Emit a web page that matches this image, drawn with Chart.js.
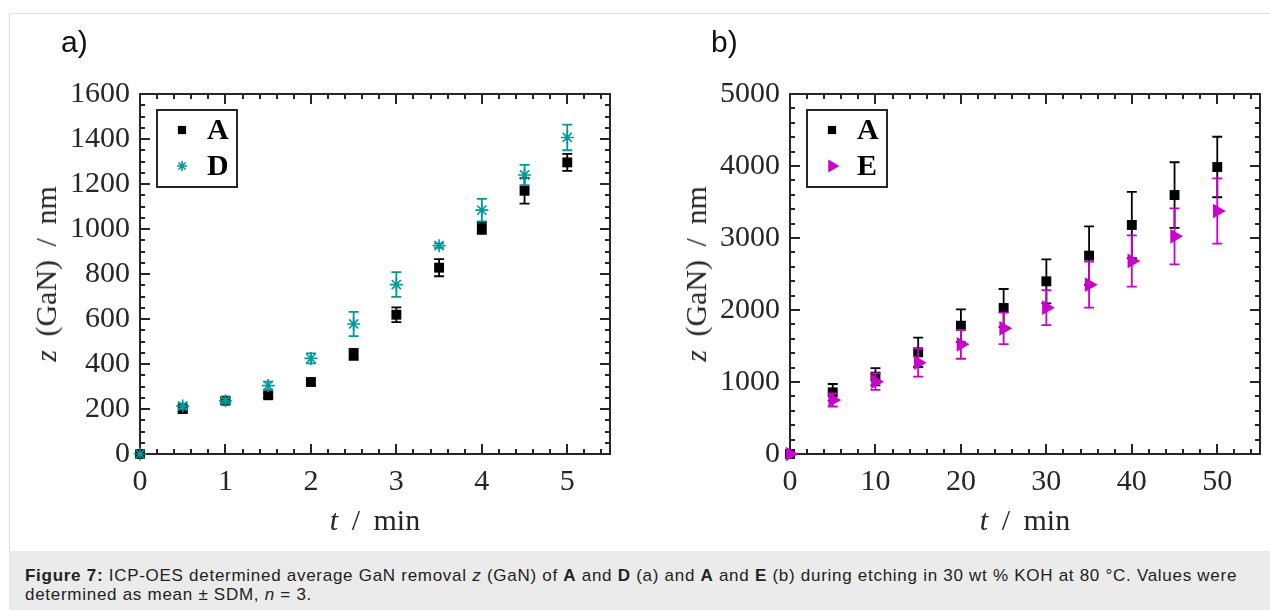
<!DOCTYPE html>
<html>
<head>
<meta charset="utf-8">
<script src="https://cdn.jsdelivr.net/npm/chart.js@4.4.0/dist/chart.umd.min.js"></script>
<style>
body{margin:0;background:#fff;width:1270px;height:610px;overflow:hidden;position:relative}
#frame{position:absolute;left:9px;top:13px;width:1261px;height:538px;border-top:1px solid #dedede;border-left:1px solid #dedede}
canvas{position:absolute;top:0}
#c1{left:0}
#c2{left:650px}
.panel{position:absolute;font:30px "Liberation Sans",sans-serif;color:#111;line-height:30px}
.ttl{position:absolute;font:30px "Liberation Serif",serif;color:#262626;white-space:nowrap;word-spacing:6px;line-height:30px}
.ytl{transform:translate(-50%,-50%) rotate(-90deg)}
.xtl{transform:translate(-50%,-50%)}
#cap{position:absolute;left:9px;top:551px;width:1261px;height:59px;background:#ebebeb;padding-left:16px;
  font:17px "Liberation Sans",sans-serif;letter-spacing:0.72px;color:#222;line-height:18.5px;padding-top:16px;box-sizing:border-box;white-space:nowrap}
</style>
</head>
<body>
<div id="frame"></div>
<canvas id="c1" width="640" height="550"></canvas>
<canvas id="c2" width="620" height="550"></canvas>
<div class="panel" style="left:61px;top:27px">a)</div>
<div class="panel" style="left:711px;top:27px">b)</div>
<div class="ttl ytl" style="left:46px;top:274px"><i>z</i> (GaN) / nm</div>
<div class="ttl ytl" style="left:696px;top:274px"><i>z</i> (GaN) / nm</div>
<div class="ttl xtl" style="left:375px;top:520px"><i>t</i> / min</div>
<div class="ttl xtl" style="left:1025px;top:520px"><i>t</i> / min</div>
<div id="cap"><b>Figure 7:</b> ICP-OES determined average GaN removal <i>z</i> (GaN) of <b>A</b> and <b>D</b> (a) and <b>A</b> and <b>E</b> (b) during etching in 30 wt % KOH at 80 °C. Values were<br>determined as mean ± SDM, <i>n</i> = 3.</div>
<script>
// panel a) : time in min, z(GaN) in nm, +- SDM
var timeA = [0, 0.5, 1, 1.5, 2, 2.5, 3, 3.5, 4, 4.5, 5];
var zA_a  = [0, 200, 237, 261, 320, 443, 619, 828, 1003, 1170, 1296];
var errA_a = [0, 12, 14, 10, 10, 24, 33, 38, 25, 57, 38];
var zD    = [0, 213, 237, 304, 425, 578, 753, 926, 1084, 1240, 1407];
var errD  = [0, 12, 10, 18, 22, 54, 55, 10, 50, 45, 57];

// panel b)
var timeB = [0, 5, 10, 15, 20, 25, 30, 35, 40, 45, 50];
var zA_b  = [0, 856, 1074, 1412, 1782, 2028, 2398, 2755, 3181, 3597, 3986];
var errA_b = [0, 116, 120, 204, 227, 264, 306, 407, 460, 455, 420];
var zE    = [0, 750, 1005, 1269, 1523, 1745, 2032, 2352, 2681, 3023, 3375];
var errE  = [0, 90, 115, 195, 200, 218, 243, 320, 355, 389, 454];

var AXIS = '#262626';
var TICKFONT = {family: 'Liberation Serif', size: 30};

function pts(xs, ys){
  var out = [];
  for (var i = 0; i < xs.length; i++) out.push({x: xs[i], y: ys[i]});
  return out;
}

// error bars, drawn just before each dataset's markers
var errorBars = {
  id: 'errorBars',
  beforeDatasetDraw: function(chart, args){
    var ds = chart.data.datasets[args.index];
    if (!ds.err) return;
    var ctx = chart.ctx, x = chart.scales.x, y = chart.scales.y;
    ctx.save();
    ctx.strokeStyle = ds.errColor; ctx.lineWidth = 1.8;
    ds.data.forEach(function(p, i){
      var e = ds.err[i]; if (!e) return;
      var px = x.getPixelForValue(p.x);
      var t = y.getPixelForValue(p.y + e), b = y.getPixelForValue(p.y - e);
      ctx.beginPath();
      ctx.moveTo(px, t); ctx.lineTo(px, b);
      ctx.moveTo(px - 5, t); ctx.lineTo(px + 5, t);
      ctx.moveTo(px - 5, b); ctx.lineTo(px + 5, b);
      ctx.stroke();
    });
    ctx.restore();
  }
};

// box around plot with inward major/minor ticks on all sides
var boxTicks = {
  id: 'boxTicks',
  beforeDatasetsDraw: function(chart, args, o){
    var ctx = chart.ctx, a = chart.chartArea, x = chart.scales.x, y = chart.scales.y;
    ctx.save();
    ctx.strokeStyle = AXIS; ctx.lineWidth = 2;
    ctx.beginPath();
    var v, p, len;
    for (v = x.min; v <= x.max + 1e-9; v += o.xMinor) {
      p = Math.round(x.getPixelForValue(v));
      len = Math.abs(v / o.xMajor - Math.round(v / o.xMajor)) < 1e-6 ? 10 : 5;
      ctx.moveTo(p, a.bottom); ctx.lineTo(p, a.bottom - len);
      ctx.moveTo(p, a.top); ctx.lineTo(p, a.top + len);
    }
    for (v = y.min; v <= y.max + 1e-9; v += o.yMinor) {
      p = Math.round(y.getPixelForValue(v));
      len = Math.abs(v / o.yMajor - Math.round(v / o.yMajor)) < 1e-6 ? 10 : 5;
      ctx.moveTo(a.left, p); ctx.lineTo(a.left + len, p);
      ctx.moveTo(a.right, p); ctx.lineTo(a.right - len, p);
    }
    ctx.stroke();
    ctx.strokeRect(a.left, a.top, a.right - a.left, a.bottom - a.top);
    ctx.restore();
  },
  afterDraw: function(chart){
    // legend box in the upper left corner
    var ctx = chart.ctx, a = chart.chartArea;
    ctx.save();
    ctx.strokeStyle = AXIS; ctx.lineWidth = 2;
    ctx.strokeRect(a.left + 17, a.top + 16, 80, 77);
    ctx.font = 'bold 30px "Liberation Serif"';
    ctx.textBaseline = 'middle';
    chart.data.datasets.forEach(function(ds, i){
      var yy = a.top + 36 + i * 36;
      ctx.fillStyle = ds.backgroundColor; ctx.strokeStyle = ds.borderColor;
      ctx.lineWidth = ds.borderWidth;
      Chart.helpers.drawPoint(ctx, {pointStyle: ds.pointStyle, rotation: ds.rotation || 0,
        radius: ds.legendRadius, borderWidth: ds.borderWidth}, a.left + 42, yy);
      ctx.fillStyle = '#000';
      ctx.fillText(ds.label, a.left + 67, yy + 1);
    });
    ctx.restore();
  }
};

function setA(xs, ys, err){
  return {label: 'A', data: pts(xs, ys), err: err, errColor: '#000', order: 1,
    pointStyle: 'rect', pointRadius: 7, legendRadius: 5.8, backgroundColor: '#000',
    borderColor: '#000', borderWidth: 0, clip: false};
}

function plain(v){ return String(v); }

function makeChart(id, sets, xr, yr, padRight){
  return new Chart(document.getElementById(id), {
    type: 'scatter',
    data: {datasets: sets},
    plugins: [errorBars, boxTicks],
    options: {
      responsive: false, animation: false,
      layout: {padding: {top: 94, right: padRight, left: 0, bottom: 0}},
      plugins: {legend: {display: false}, tooltip: {enabled: false},
        boxTicks: {xMajor: xr.step, xMinor: xr.minor, yMajor: yr.step, yMinor: yr.minor}},
      scales: {
        x: {type: 'linear', min: 0, max: xr.max,
          grid: {display: false, drawTicks: false}, border: {display: false},
          ticks: {stepSize: xr.step, includeBounds: false, font: TICKFONT, color: AXIS, padding: 10, maxRotation: 0, callback: plain},
          afterFit: function(s){ s.height = 96; }},
        y: {min: 0, max: yr.max,
          grid: {display: false, drawTicks: false}, border: {display: false},
          ticks: {stepSize: yr.step, includeBounds: false, font: TICKFONT, color: AXIS, padding: 10, callback: plain},
          afterFit: function(s){ s.width = 140; }}
      }
    }
  });
}

makeChart('c1', [
  setA(timeA, zA_a, errA_a),
  {label: 'D', data: pts(timeA, zD), err: errD, errColor: '#009999', order: 0,
    pointStyle: 'star', pointRadius: 6.5, legendRadius: 5, backgroundColor: '#009999',
    borderColor: '#009999', borderWidth: 1.6, clip: false}
], {max: 5.5, step: 1, minor: 0.2}, {max: 1600, step: 200, minor: 50}, 30);

makeChart('c2', [
  setA(timeB, zA_b, errA_b),
  {label: 'E', data: pts(timeB, zE), err: errE, errColor: '#cc00cc', order: 0,
    pointStyle: 'triangle', rotation: 90, pointRadius: 8.5, legendRadius: 7.5, backgroundColor: '#cc00cc',
    borderColor: '#cc00cc', borderWidth: 0, clip: false}
], {max: 55, step: 10, minor: 2}, {max: 5000, step: 1000, minor: 200}, 10);
</script>
</body>
</html>
